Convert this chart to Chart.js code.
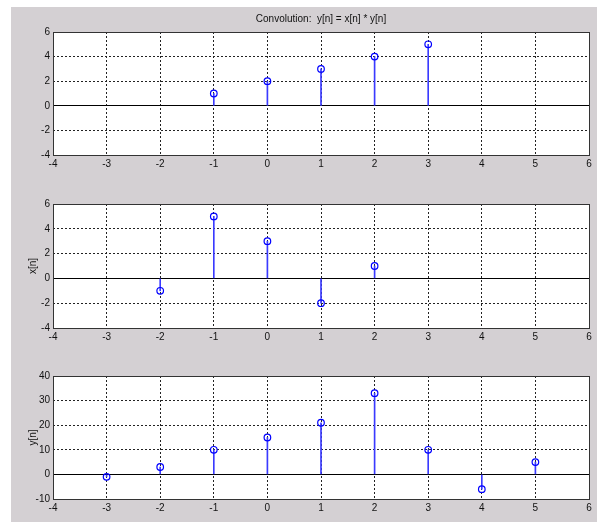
<!DOCTYPE html>
<html>
<head>
<meta charset="utf-8">
<script src="https://cdn.jsdelivr.net/npm/chart.js@4"></script>
<style>
  html, body { margin: 0; padding: 0; background: #fff; overflow: hidden; }
  body { width: 597px; height: 522px; position: relative; }
  #fig { position: absolute; left: 11px; top: 7px; width: 586px; height: 515px; background: #d4d0d3; }
  canvas { position: absolute; left: 11px; }
</style>
</head>
<body>
<div id="fig"></div>
<canvas id="c1" width="586" height="170" style="top:7px"></canvas>
<canvas id="c2" width="586" height="170" style="top:180px"></canvas>
<canvas id="c3" width="586" height="183" style="top:352px"></canvas>
<script>
    // stem data
    const nH = [-1, 0, 1, 2, 3];
    const hVals = [1, 2, 3, 4, 5];

    const nX = [-2, -1, 0, 1, 2];
    const xVals = [-1, 5, 3, -2, 1];

    const nY = [-3, -2, -1, 0, 1, 2, 3, 4, 5];
    const yVals = [-1, 3, 10, 15, 21, 33, 10, -6, 5];

    const nRange = [-4, 6];
    const topRange = [-4, 6, 2];
    const midRange = [-4, 6, 2];
    const botRange = [-10, 40, 10];

    const FONT = { family: 'Liberation Sans, Arial, sans-serif', size: 10, weight: 'normal' };
    const BLUE = '#0000ff';

    // same pixel snapping as chart.js grid lines
    const snap = p => Math.round(p - 0.5) + 0.5;

    // white axes box, zero baseline and frame like matlab
    const matlabAxes = {
        id: 'matlabAxes',
        beforeDraw(chart) {
            const a = chart.chartArea, c = chart.ctx;
            c.save();
            c.fillStyle = '#fff';
            c.fillRect(a.left, a.top, a.right - a.left, a.bottom - a.top);
            c.restore();
        },
        beforeDatasetsDraw(chart) {
            const a = chart.chartArea, c = chart.ctx;
            const y0 = snap(chart.scales.y.getPixelForValue(0));
            c.save();
            c.strokeStyle = '#000';
            c.lineWidth = 1;
            c.beginPath();
            c.moveTo(a.left, y0);
            c.lineTo(a.right, y0);
            c.stroke();
            c.restore();
        },
        afterDraw(chart) {
            const a = chart.chartArea, c = chart.ctx;
            const l = snap(a.left), t = snap(a.top), r = snap(a.right), b = snap(a.bottom);
            c.save();
            c.strokeStyle = '#333';
            c.lineWidth = 1;
            c.strokeRect(l, t, r - l, b - t);
            c.restore();
        }
    };

    function stem(id, n, vals, yr, opts) {
        const pts = n.map((v, i) => ({ x: v, y: vals[i] }));
        return new Chart(document.getElementById(id), {
            type: 'bar',
            data: {
                datasets: [
                    {
                        type: 'scatter',
                        data: pts,
                        pointStyle: 'circle',
                        pointRadius: 3.3,
                        borderColor: BLUE,
                        backgroundColor: 'rgba(0,0,0,0)',
                        borderWidth: 1.2
                    },
                    {
                        type: 'bar',
                        data: pts,
                        backgroundColor: '#3a3aff',
                        barThickness: 1,
                        borderWidth: 0
                    }
                ]
            },
            options: {
                responsive: false,
                animation: false,
                devicePixelRatio: 1,
                layout: { padding: { top: opts.padTop, left: 12, right: 8, bottom: 0 } },
                scales: {
                    x: {
                        type: 'linear',
                        offset: false,
                        min: nRange[0], max: nRange[1],
                        afterFit: s => { s.height = opts.xHeight; },
                        ticks: { stepSize: 1, font: FONT, color: '#111', padding: 3, autoSkip: false, maxRotation: 0 },
                        grid: { color: '#222', lineWidth: 1, drawTicks: false, offset: false },
                        border: { display: false, dash: [2, 2] },
                        title: opts.xTitle ? { display: true, text: opts.xTitle, font: FONT, color: '#111', padding: { top: 2, bottom: 4 } } : { display: false }
                    },
                    y: {
                        min: yr[0], max: yr[1],
                        afterFit: s => { s.width = 30; },
                        ticks: { stepSize: yr[2], font: FONT, color: '#111', padding: 3, autoSkip: false },
                        grid: { color: '#222', lineWidth: 1, drawTicks: false },
                        border: { display: false, dash: [2, 2] },
                        title: opts.yTitle ? { display: true, text: opts.yTitle, font: FONT, color: '#111', padding: { top: 4, bottom: 0 } } : { display: false }
                    }
                },
                plugins: {
                    legend: { display: false },
                    tooltip: { enabled: false },
                    title: opts.title ? {
                        display: true,
                        text: opts.title,
                        fullSize: false,
                        font: FONT,
                        color: '#111',
                        padding: { top: 6, bottom: 7 }
                    } : { display: false }
                }
            },
            plugins: [matlabAxes]
        });
    }

    stem('c1', nH, hVals, topRange, { padTop: 0, xHeight: 22, title: 'Convolution:  y[n] = x[n] * y[n]' });
    stem('c2', nX, xVals, midRange, { padTop: 24, xHeight: 22, yTitle: 'x[n]' });
    stem('c3', nY, yVals, botRange, { padTop: 24, xHeight: 36, yTitle: 'y[n]', xTitle: 'n' });
</script>
</body>
</html>
